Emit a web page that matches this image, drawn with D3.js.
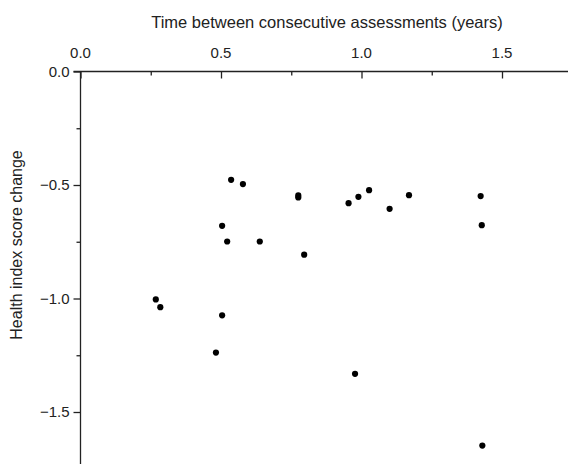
<!DOCTYPE html>
<html>
<head>
<meta charset="utf-8">
<script src="https://cdn.jsdelivr.net/npm/d3@7/dist/d3.min.js"></script>
<style>
  html, body { margin: 0; padding: 0; background: #fff; }
  svg { display: block; }
  text { font-family: "Liberation Sans", Arial, sans-serif; fill: #222; }
</style>
</head>
<body>
<svg id="chart" width="568" height="464"></svg>
<script>
// Data
const timeYears = [0.536, 0.578, 0.775, 0.775, 0.954, 0.504, 0.522, 0.638, 0.796, 0.268,
                   0.284, 0.504, 0.482, 0.989, 1.027, 1.169, 1.100, 1.424, 1.428, 0.977, 1.430];
const scoreChange = [-0.477, -0.496, -0.546, -0.555, -0.580, -0.680, -0.749, -0.749, -0.807, -1.004,
                     -1.038, -1.074, -1.238, -0.552, -0.523, -0.545, -0.605, -0.549, -0.677, -1.332, -1.648];
const xTicks = [0, 0.5, 1.0, 1.5];
const xMinorTicks = [0.25, 0.75, 1.25];
const yTicks = [0, -0.5, -1.0, -1.5];
const yMinorTicks = [-0.25, -0.75, -1.25];
const xTitle = "Time between consecutive assessments (years)";
const yTitle = "Health index score change";

const svg = d3.select("#chart");
const W = 568, H = 464;
const x0 = 80.5, y0 = 71.5;
const pxPerX = 281, pxPerY = 227;

const x = d3.scaleLinear().domain([0, (W - x0) / pxPerX]).range([x0, W]);
const y = d3.scaleLinear().domain([0, -(H - y0) / pxPerY]).range([y0, H]);

const fmt = d => (d < 0 ? "\u2212" + Math.abs(d).toFixed(1) : d.toFixed(1));

// Top x axis (ticks pointing down into the plot)
const gx = svg.append("g").attr("transform", `translate(0,${y0})`);
gx.call(d3.axisBottom(x).tickValues(xTicks).tickSize(7).tickFormat(""));
gx.call(g => g.select(".domain").attr("d", `M${x0 - 7},0H${W}`).attr("stroke", "#222").attr("stroke-width", 1.3));
gx.selectAll(".tick line").attr("stroke", "#222").attr("stroke-width", 1.3);
const gxm = svg.append("g").attr("transform", `translate(0,${y0})`);
gxm.call(d3.axisBottom(x).tickValues(xMinorTicks).tickSize(4).tickFormat(""));
gxm.select(".domain").remove();
gxm.selectAll(".tick line").attr("stroke", "#222").attr("stroke-width", 1.3);
// x labels above
svg.append("g").selectAll("text").data(xTicks).join("text")
  .attr("x", d => x(d)).attr("y", y0 - 14)
  .attr("text-anchor", "middle").attr("font-size", 15)
  .text(d => d.toFixed(1));
svg.append("text").attr("x", 327).attr("y", 28)
  .attr("text-anchor", "middle").attr("font-size", 16.5).text(xTitle);

// Left y axis (ticks pointing left)
const gy = svg.append("g").attr("transform", `translate(${x0},0)`);
gy.call(d3.axisLeft(y).tickValues(yTicks).tickSize(7).tickPadding(4).tickFormat(fmt));
gy.call(g => g.select(".domain").attr("d", `M0,${y0}V${H}`).attr("stroke", "#222").attr("stroke-width", 1.3));
gy.selectAll(".tick line").attr("stroke", "#222").attr("stroke-width", 1.3);
gy.selectAll(".tick text").attr("font-size", 15).attr("fill", "#222")
  .attr("font-family", "Liberation Sans, Arial, sans-serif");
const gym = svg.append("g").attr("transform", `translate(${x0},0)`);
gym.call(d3.axisLeft(y).tickValues(yMinorTicks).tickSize(4).tickFormat(""));
gym.select(".domain").remove();
gym.selectAll(".tick line").attr("stroke", "#222").attr("stroke-width", 1.3);

svg.append("text")
  .attr("transform", `translate(22,${245}) rotate(-90)`)
  .attr("text-anchor", "middle").attr("font-size", 16).text(yTitle);

// Points
svg.append("g").selectAll("circle").data(timeYears.map((t, i) => [t, scoreChange[i]]))
  .join("circle")
  .attr("cx", d => x(d[0])).attr("cy", d => y(d[1]))
  .attr("r", 3.1).attr("fill", "#000");
</script>
</body>
</html>
